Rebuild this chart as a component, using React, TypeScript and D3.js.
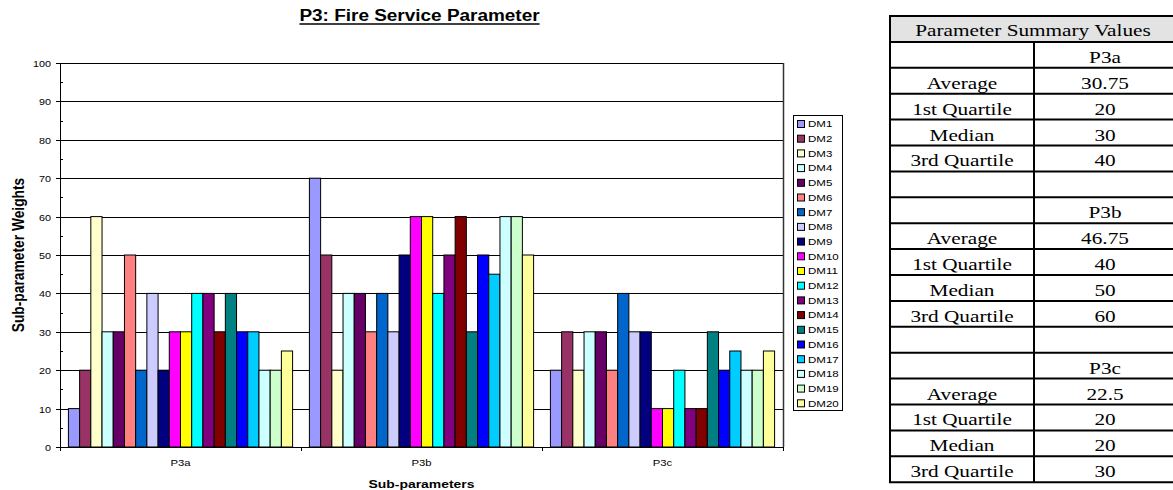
import { useEffect, useRef } from 'react'
import * as d3 from 'd3'

const categories = ['P3a', 'P3b', 'P3c']
const dmNames = ['DM1', 'DM2', 'DM3', 'DM4', 'DM5', 'DM6', 'DM7', 'DM8', 'DM9', 'DM10',
    'DM11', 'DM12', 'DM13', 'DM14', 'DM15', 'DM16', 'DM17', 'DM18', 'DM19', 'DM20']
const p3aValues = [10, 20, 60, 30, 30, 50, 20, 40, 20, 30, 30, 40, 40, 30, 40, 30, 30, 20, 20, 25]
const p3bValues = [70, 50, 20, 40, 40, 30, 40, 30, 50, 60, 60, 40, 50, 60, 30, 50, 45, 60, 60, 50]
const p3cValues = [20, 30, 20, 30, 30, 20, 40, 30, 30, 10, 10, 20, 10, 10, 30, 20, 25, 20, 20, 25]
const dmColors = ['#9999ff', '#993366', '#ffffcc', '#ccffff', '#660066', '#ff8080', '#0066cc', '#ccccff',
    '#000080', '#ff00ff', '#ffff00', '#00ffff', '#800080', '#800000', '#008080', '#0000ff',
    '#00ccff', '#ccffff', '#ccffcc', '#ffff99']
const yTicks = [0, 10, 20, 30, 40, 50, 60, 70, 80, 90, 100]

const statLabels = ['Average', '1st Quartile', 'Median', '3rd Quartile']
const p3aStats = ['30.75', '20', '30', '40']
const p3bStats = ['46.75', '40', '50', '60']
const p3cStats = ['22.5', '20', '20', '30']

const SANS = '"Liberation Sans", Arial, sans-serif'
const SERIF = '"Liberation Serif", "Times New Roman", serif'
const SX = 1.2 // the source picture is stretched sideways

export default function App() {
    const svgRef = useRef<SVGSVGElement>(null)

    useEffect(() => {
        if (!svgRef.current) return
        const svg = d3.select(svgRef.current)
        svg.selectAll('*').remove()

        const width = 1173
        const height = 490
        const plot = { left: 60, right: 783, top: 63, bottom: 447 }
        svg.attr('width', width).attr('height', height)

        const seriesByCat = [p3aValues, p3bValues, p3cValues]

        const x0 = d3.scaleBand().domain(categories).range([plot.left, plot.right]).padding(0)
        const x1 = d3.scaleBand().domain(dmNames).range([0, x0.bandwidth()])
            .paddingInner(0).paddingOuter(0.75)
        const y = d3.scaleLinear().domain([0, 100]).range([plot.bottom, plot.top])

        const txt = (g: any, x: number, yy: number, s: string, size: number, opts: any = {}) =>
            g.append('text')
                .attr('transform', `translate(${x},${yy}) scale(${SX},1)${opts.rotate ? ' rotate(-90)' : ''}`)
                .attr('text-anchor', opts.anchor || 'start')
                .attr('font-family', opts.family || SANS)
                .attr('font-weight', opts.bold ? 'bold' : 'normal')
                .attr('font-size', size)
                .attr('dy', opts.dy || 0)
                .attr('fill', '#000')
                .text(s)

        // gridlines
        svg.append('g').selectAll('line')
            .data(yTicks.filter(d => d > 0))
            .enter().append('line')
            .attr('x1', plot.left).attr('x2', plot.right)
            .attr('y1', d => Math.round(y(d)) + 0.5).attr('y2', d => Math.round(y(d)) + 0.5)
            .attr('stroke', '#000').attr('stroke-width', 1)

        // right border of plot area
        svg.append('line')
            .attr('x1', plot.right + 0.5).attr('x2', plot.right + 0.5)
            .attr('y1', plot.top).attr('y2', plot.bottom)
            .attr('stroke', '#333').attr('stroke-width', 1.5)

        // bars
        categories.forEach((cat, ci) => {
            svg.append('g').selectAll('rect')
                .data(seriesByCat[ci])
                .enter().append('rect')
                .attr('x', (_, i) => (x0(cat) || 0) + (x1(dmNames[i]) || 0))
                .attr('y', d => y(d))
                .attr('width', x1.bandwidth())
                .attr('height', d => y(0) - y(d))
                .attr('fill', (_, i) => dmColors[i])
                .attr('stroke', '#000')
                .attr('stroke-width', 1)
        })

        // y axis
        svg.append('line')
            .attr('x1', plot.left + 0.5).attr('x2', plot.left + 0.5)
            .attr('y1', plot.top).attr('y2', plot.bottom + 1)
            .attr('stroke', '#000')
        const yAxis = svg.append('g')
        yTicks.forEach(t => {
            const yy = Math.round(y(t)) + 0.5
            yAxis.append('line').attr('x1', plot.left - 4).attr('x2', plot.left).attr('y1', yy).attr('y2', yy).attr('stroke', '#000')
            txt(yAxis, 51, yy, String(t), 9, { anchor: 'end', dy: '0.35em' })
            if (t < 100) {
                const ym = Math.round(y(t + 5)) + 0.5
                yAxis.append('line').attr('x1', plot.left).attr('x2', plot.left + 3).attr('y1', ym).attr('y2', ym).attr('stroke', '#000')
            }
        })

        // x axis
        svg.append('line')
            .attr('x1', plot.left).attr('x2', plot.right + 1)
            .attr('y1', plot.bottom + 0.5).attr('y2', plot.bottom + 0.5)
            .attr('stroke', '#000')
        const xAxis = svg.append('g')
        const edges = categories.map(c => x0(c) || 0).concat([plot.right])
        edges.forEach(e => {
            xAxis.append('line').attr('x1', Math.round(e) + 0.5).attr('x2', Math.round(e) + 0.5)
                .attr('y1', plot.bottom).attr('y2', plot.bottom + 4).attr('stroke', '#000')
        })
        categories.forEach(c => {
            txt(xAxis, (x0(c) || 0) + x0.bandwidth() / 2, 466, c, 9.4, { anchor: 'middle' })
        })

        // titles
        const title = txt(svg, 419.5, 21, 'P3: Fire Service Parameter', 15.8, { anchor: 'middle', bold: true })
        const tw = (title.node() as SVGTextElement).getComputedTextLength() * SX
        svg.append('line')
            .attr('x1', 419.5 - tw / 2).attr('x2', 419.5 + tw / 2)
            .attr('y1', 24).attr('y2', 24)
            .attr('stroke', '#000').attr('stroke-width', 1.5)
        txt(svg, 421.5, 488, 'Sub-parameters', 11.6, { anchor: 'middle', bold: true })
        txt(svg, 18, 255, 'Sub-parameter Weights', 13.8, { anchor: 'middle', bold: true, rotate: true, dy: '0.35em' })

        // legend
        const legend = svg.append('g')
        legend.append('rect')
            .attr('x', 793.5).attr('y', 115.5).attr('width', 49).attr('height', 295)
            .attr('fill', '#fff').attr('stroke', '#000')
        dmNames.forEach((name, i) => {
            const cy = 124 + i * 14.7
            legend.append('rect')
                .attr('x', 797.5).attr('y', cy - 3.5).attr('width', 7).attr('height', 7)
                .attr('fill', dmColors[i]).attr('stroke', '#000')
            txt(legend, 808, cy, name, 9.6, { dy: '0.35em' })
        })

        // summary table
        const table = svg.append('g')
        const tLeft = 890, tMid = 1034, tRight = 1176, tTop = 16, rowH = 25.9
        const rows: [string, string][] = []
        const groups = [p3aStats, p3bStats, p3cStats]
        groups.forEach((stats, gi) => {
            rows.push(['', categories[gi]])
            statLabels.forEach((l, i) => rows.push([l, stats[i]]))
            if (gi < groups.length - 1) rows.push(['', ''])
        })
        const nRows = rows.length + 1
        const tBottom = tTop + nRows * rowH

        table.append('rect')
            .attr('x', tLeft).attr('y', tTop).attr('width', tRight - tLeft).attr('height', rowH)
            .attr('fill', '#e3e3e3')
        for (let r = 0; r <= nRows; r++) {
            const yy = tTop + r * rowH
            table.append('line').attr('x1', tLeft - 1).attr('x2', tRight + 1).attr('y1', yy).attr('y2', yy)
                .attr('stroke', '#000').attr('stroke-width', 2)
        }
        ;[tLeft, tRight].forEach(xx => {
            table.append('line').attr('x1', xx).attr('x2', xx).attr('y1', tTop).attr('y2', tBottom)
                .attr('stroke', '#000').attr('stroke-width', 2)
        })
        table.append('line').attr('x1', tMid).attr('x2', tMid).attr('y1', tTop + rowH).attr('y2', tBottom)
            .attr('stroke', '#000').attr('stroke-width', 2)

        txt(table, (tLeft + tRight) / 2, tTop + rowH / 2 + 7, 'Parameter Summary Values', 17.7, { anchor: 'middle', family: SERIF })
        rows.forEach((row, r) => {
            const cy = tTop + (r + 1) * rowH + rowH / 2 + 8
            if (row[0]) txt(table, (tLeft + tMid) / 2, cy, row[0], 17.7, { anchor: 'middle', family: SERIF })
            if (row[1]) txt(table, (tMid + tRight) / 2, cy, row[1], 17.7, { anchor: 'middle', family: SERIF })
        })
    }, [])

    return <svg ref={svgRef} style={{ position: 'absolute', left: 0, top: 0, display: 'block', background: '#fff' }} />
}
